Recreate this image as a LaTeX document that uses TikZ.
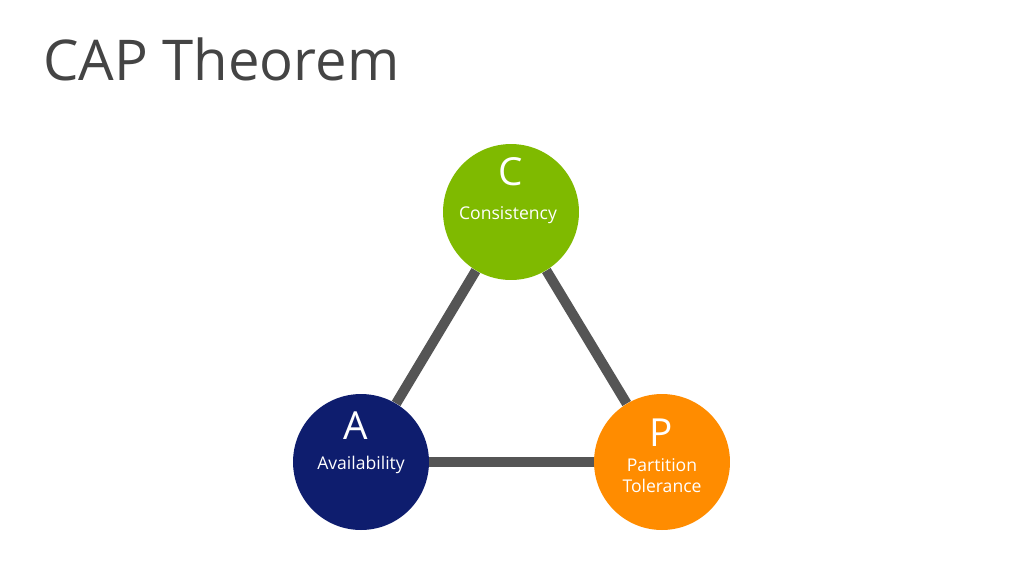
\documentclass[tikz,border=0pt]{standalone}
\usepackage{fontspec}
\setmainfont{Open Sans}
\usepackage{xcolor}
\usetikzlibrary{positioning, calc, backgrounds}
\definecolor{capgreen}{HTML}{7FBA00}
\definecolor{capnavy}{HTML}{0E1D6E}
\definecolor{caporange}{HTML}{FF8C00}
\definecolor{edgegray}{HTML}{555555}
\definecolor{titlegray}{HTML}{444444}

\begin{document}
\begin{tikzpicture}[
    x=0.02cm, y=-0.02cm,
    prop/.style={circle, minimum size=2.72cm, inner sep=0pt},
    letter/.style={text=white, font=\fontsize{22}{24}\selectfont},
    word/.style={text=white, align=center, font=\fontsize{10}{12}\selectfont},
    link/.style={draw=edgegray, line width=5.7pt}
]
\useasboundingbox (0,0) rectangle (1024,576);

% Title
\node[anchor=base west, text=titlegray, font=\fontsize{32}{36}\selectfont, inner sep=0pt] (title) at (43,80) {CAP Theorem};

% Properties
\node[prop, fill=capgreen] (cons) at (511,212) {};
\node[prop, fill=capnavy] (avail) at (361,462) {};
\node[prop, fill=caporange] (part) at (662,462) {};

% Labels
\node[letter] (cl) at (511,172) {C};
\node[word] (cw) at (508,215) {Consistency};
\node[letter] (al) at (356,426) {A};
\node[word] (aw) at (361,465) {Availability};
\node[letter] (pl) at (661,433) {P};
\node[word] (pw) at (662,476) {Partition\\Tolerance};

% Edges
\begin{scope}[on background layer]
\draw[link] (cons) -- (avail);
\draw[link] (cons) -- (part);
\draw[link] (avail) -- (part);
\end{scope}

\end{tikzpicture}
\end{document}
